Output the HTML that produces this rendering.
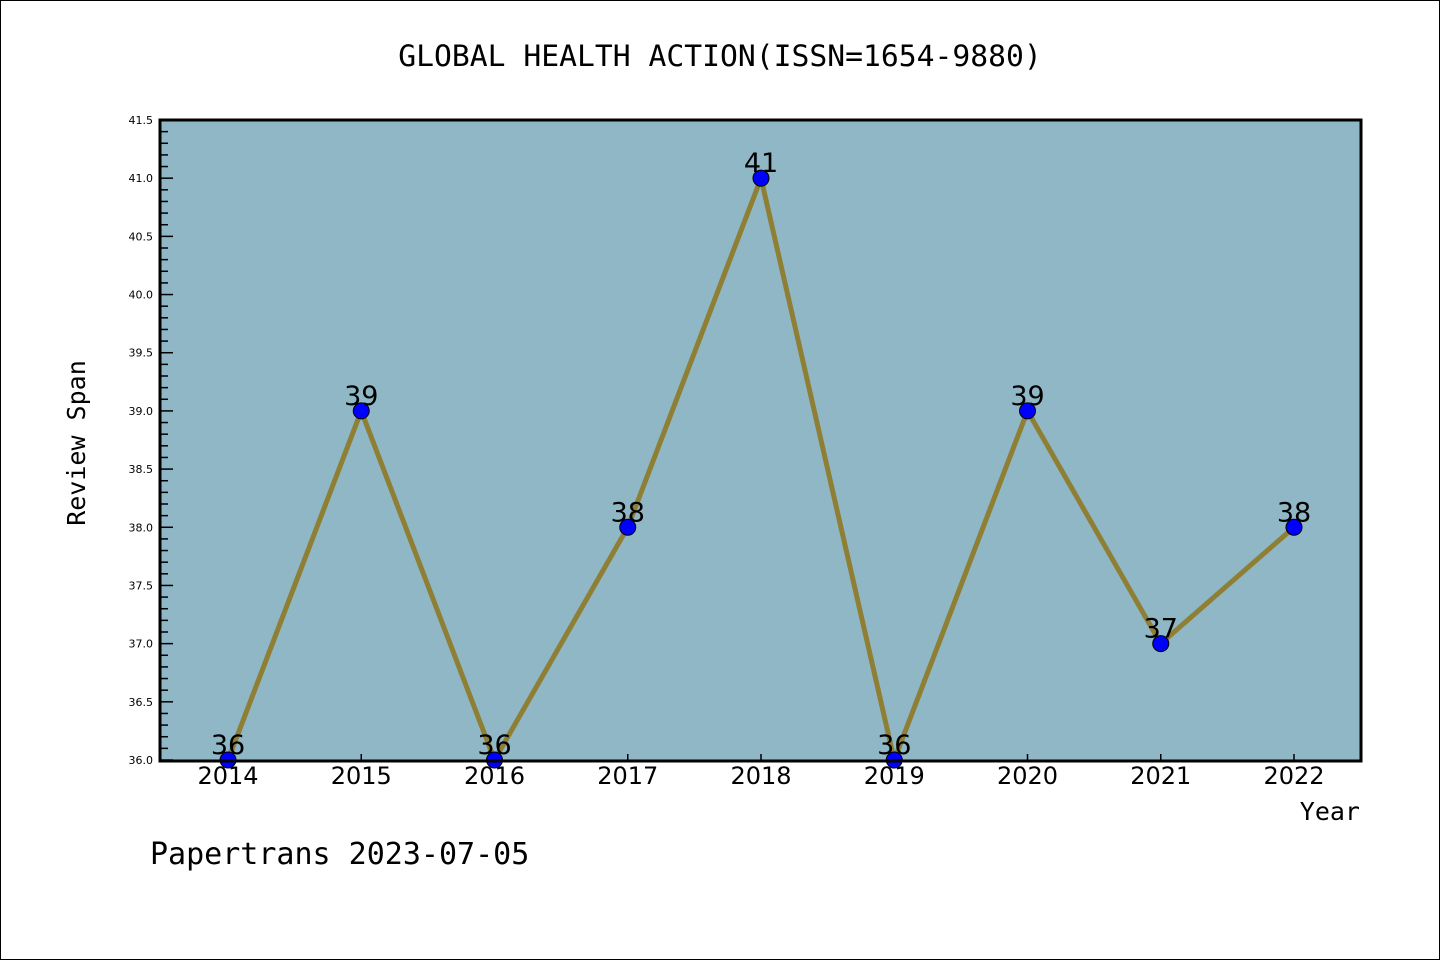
<!DOCTYPE html>
<html><head><meta charset="utf-8"><style>
body{margin:0;background:#fff}
svg{display:block;font-family:"DejaVu Sans Mono","Liberation Mono",monospace}
</style></head><body>
<svg width="1440" height="960" xmlns="http://www.w3.org/2000/svg">
<rect x="0.5" y="0.5" width="1439" height="959" fill="#fff" stroke="#000"/>
<text x="720" y="66" text-anchor="middle" font-size="29.7">GLOBAL HEALTH ACTION(ISSN=1654-9880)</text>
<rect x="160" y="120" width="1201" height="641" fill="#8fb7c5"/>
<g id="yaxis"></g>
<g id="xaxis"></g>
<g id="series"></g>
<rect x="160" y="120" width="1201" height="641" fill="none" stroke="#000" stroke-width="3"/>
<text x="85" y="443" text-anchor="middle" font-size="25" transform="rotate(-90 85 443)">Review Span</text>
<text x="1360" y="820" text-anchor="end" font-size="25">Year</text>
<text x="150" y="864" font-size="30">Papertrans 2023-07-05</text>
</svg>
<script>
const years=[2014,2015,2016,2017,2018,2019,2020,2021,2022];
const values=[36,39,36,38,41,36,39,37,38];
const yTicks=[36.0,36.5,37.0,37.5,38.0,38.5,39.0,39.5,40.0,40.5,41.0,41.5];
const NS="http://www.w3.org/2000/svg";
const yMin=36,yMax=41.5,yTop=120,yBot=760;
function yS(v){return yBot-(v-yMin)/(yMax-yMin)*(yBot-yTop);}
function xS(i){return 228+i*(1294-228)/(years.length-1);}
function mk(t,a,p){const e=document.createElementNS(NS,t);for(const k in a)e.setAttribute(k,a[k]);p.appendChild(e);return e;}
const ya=document.getElementById('yaxis');
for(let k=0;k<=55;k++){const v=yMin+k*0.1;const major=k%5===0;
 const l=mk('line',{x1:160,x2:160+(major?13:8),y1:yS(v),y2:yS(v),stroke:'#000','stroke-width':1.5},ya);
 
 }
yTicks.forEach(v=>{const t=mk('text',{x:153,y:yS(v)+4,'text-anchor':'end','font-size':11,'font-family':'DejaVu Sans, sans-serif'},ya);t.textContent=v.toFixed(1);
 
 });
const xa=document.getElementById('xaxis');
years.forEach((y,i)=>{const t=mk('text',{x:xS(i),y:784,'text-anchor':'middle','font-size':24,'font-family':'DejaVu Sans, sans-serif'},xa);t.textContent=y;
 
 
 const l=mk('line',{x1:xS(i),x2:xS(i),y1:760,y2:754,stroke:'#000','stroke-width':1.5},xa);
 
 });
const s=document.getElementById('series');
const pl=mk('polyline',{points:values.map((v,i)=>xS(i)+','+yS(v)).join(' '),fill:'none',stroke:'#8f7f35','stroke-width':5,'stroke-linejoin':'miter'},s);


values.forEach((v,i)=>{const c=mk('circle',{cx:xS(i),cy:yS(v),r:8,fill:'#0000ff',stroke:'#000','stroke-width':1},s);
 
 
 const t=mk('text',{x:xS(i),y:yS(v)-6,'text-anchor':'middle','font-size':27,'font-family':'DejaVu Sans, sans-serif'},s);t.textContent=v;
 
 });
</script>
</body></html>
